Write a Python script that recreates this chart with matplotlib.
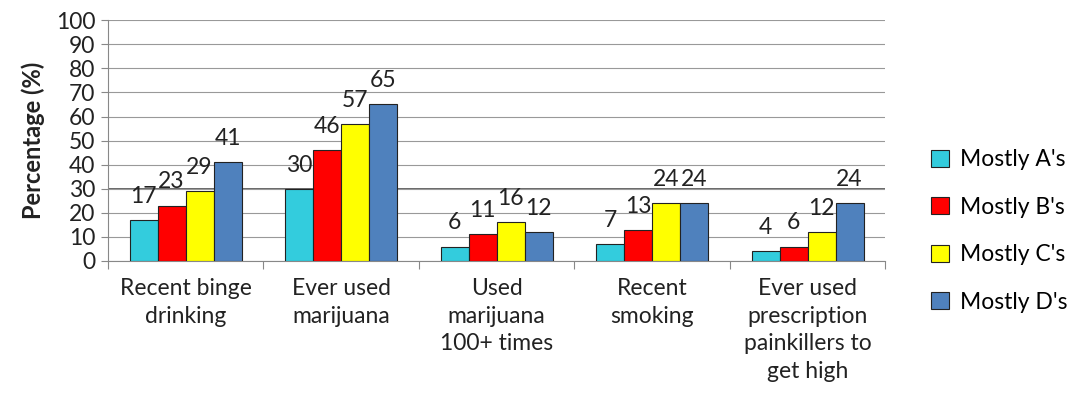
import numpy as np
import matplotlib.pyplot as plt

plt.rcParams['font.family'] = ['Lato', 'DejaVu Sans']

categories = ['Recent binge\ndrinking', 'Ever used\nmarijuana', 'Used\nmarijuana\n100+ times',
              'Recent\nsmoking', 'Ever used\nprescription\npainkillers to\nget high']
series_names = ["Mostly A's", "Mostly B's", "Mostly C's", "Mostly D's"]
mostly_a = [17, 30, 6, 7, 4]
mostly_b = [23, 46, 11, 13, 6]
mostly_c = [29, 57, 16, 24, 12]
mostly_d = [41, 65, 12, 24, 24]
colors = ['#33CCDD', '#FF0000', '#FFFF00', '#4F81BD']

FS = 16.5

fig = plt.figure(figsize=(10.68, 3.96), dpi=100)
ax = fig.add_axes([0.101, 0.341, 0.728, 0.608])

x = np.arange(len(categories))
w = 0.18
for i, (vals, col, name) in enumerate(zip([mostly_a, mostly_b, mostly_c, mostly_d], colors, series_names)):
    pos = x + (i - 1.5) * w
    bars = ax.bar(pos, vals, w, color=col, edgecolor='#222222', linewidth=0.8, label=name, zorder=3)
    for b, v in zip(bars, vals):
        ax.annotate(str(v), (b.get_x() + b.get_width() / 2, v), xytext=(0, 17),
                    textcoords='offset points', ha='center', va='center', fontsize=FS, color='#222222')

ax.set_xlim(-0.5, len(categories) - 0.5)
ax.set_ylim(0, 100)
ax.set_yticks(range(0, 101, 10))
ax.tick_params(axis='y', labelsize=FS, length=5, color='#888888', pad=4, labelcolor='#222222')
ax.yaxis.grid(True, color='#999999', linewidth=0.8, zorder=0)
ax.axhline(30, color='#666666', linewidth=1.4, zorder=1)

ax.set_xticks(np.arange(-0.5, len(categories), 1.0))
ax.set_xticklabels([])
ax.tick_params(axis='x', length=6, color='#888888', direction='out')
for xi, lab in zip(x, categories):
    ax.text(xi, -7, lab, ha='center', va='top', fontsize=FS, color='#222222', linespacing=1.4)

for s in ['top', 'right']:
    ax.spines[s].set_visible(False)
ax.spines['left'].set_color('#888888')
ax.spines['bottom'].set_color('#888888')

ax.set_ylabel('Percentage (%)', fontsize=17, fontweight='bold', color='#222222', labelpad=8)

fig.legend(loc='center left', bbox_to_anchor=(920 / 1068, 1 - 231 / 396), frameon=False, fontsize=FS,
           handlelength=0.75, handleheight=0.75, labelspacing=1.15, handletextpad=0.5, borderpad=0)

fig.savefig('out.png', dpi=100)
